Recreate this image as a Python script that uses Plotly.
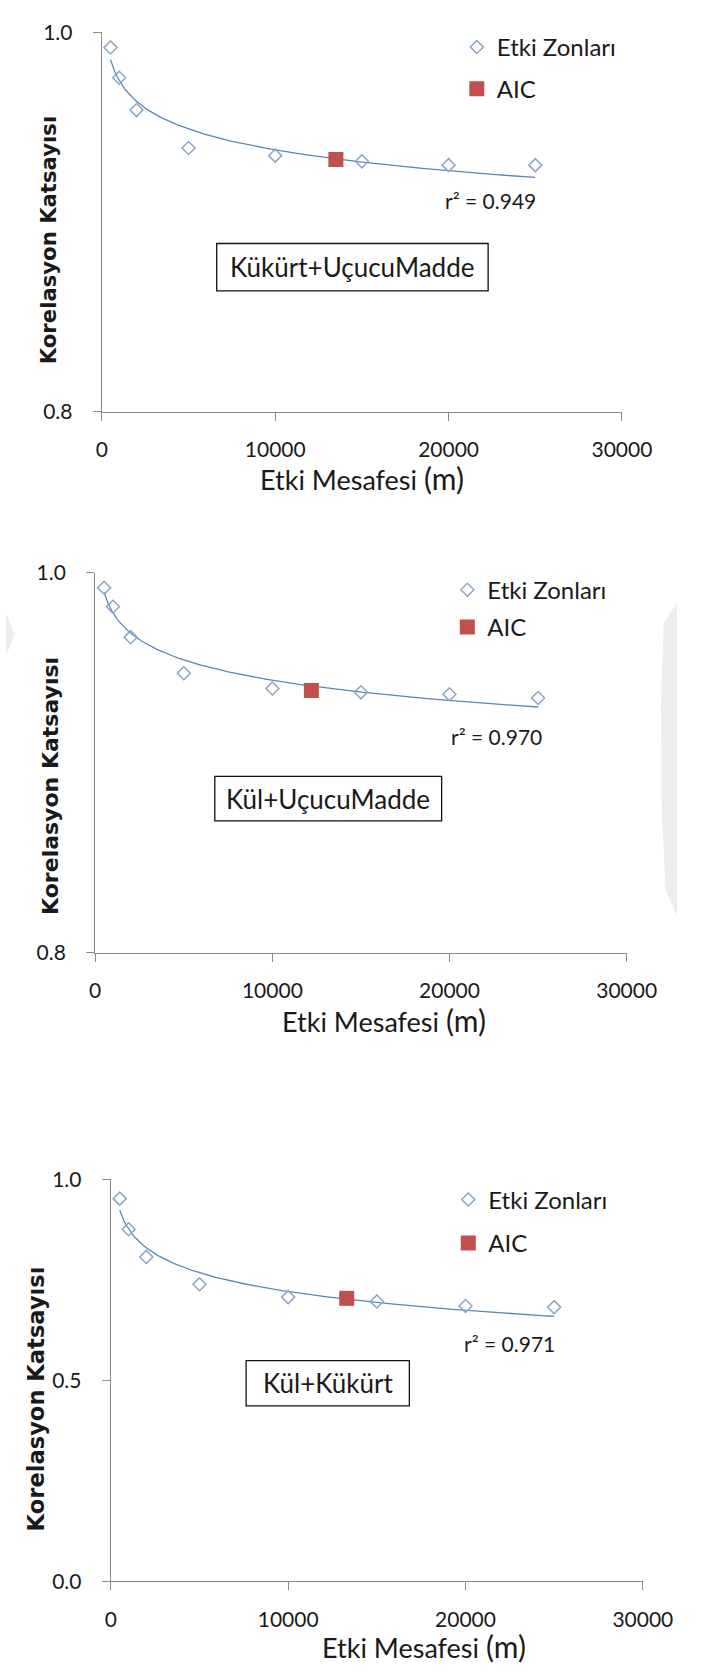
import numpy as np
import plotly.graph_objects as go

# Etki mesafesi (m) for each zone
distances = [500, 1000, 2000, 5000, 10000, 15000, 20000, 25000]

# Korelasyon katsayısı per zone for each parameter pair
kukurt_ucucu = [0.992, 0.976, 0.959, 0.939, 0.935, 0.932, 0.930, 0.930]
kul_ucucu = [0.992, 0.982, 0.966, 0.947, 0.939, 0.937, 0.936, 0.934]
kul_kukurt = [0.952, 0.876, 0.807, 0.739, 0.707, 0.696, 0.685, 0.682]

# AIC-selected distance and its coefficient
aic_distance = [13500, 12200, 13300]
aic_value = [0.933, 0.938, 0.704]

panel_names = ["Kükürt+UçucuMadde", "Kül+UçucuMadde", "Kül+Kükürt"]
r2_values = ["0.949", "0.970", "0.971"]
x_ticks = [0, 10000, 20000, 30000]
x_tick_text = ["0", "10000", "20000", "30000"]
y_ticks = [[0.8, 1.0], [0.8, 1.0], [0.0, 0.5, 1.0]]
y_ranges = [[0.8, 1.0], [0.8, 1.0], [0.0, 1.0]]
series = [kukurt_ucucu, kul_ucucu, kul_kukurt]

W, H = 707, 1676


def fx(px):
    return px / W


def fy(py):
    return 1 - py / H


# pixel layout of each panel
panels = [
    dict(x0=101, x1=649, ytop=18.5, ybot=404, leg=(475, 11), gap=7.7, box=(222, 233, 508, 281),
         r2=(510, 189), ytitle=(45, 230, 21.2), xtitle=(375, 471)),
    dict(x0=94, x1=654, ytop=567, ybot=953, leg=(465, 562), gap=3, box=(220, 774, 459, 819),
         r2=(517, 733), ytitle=(47, 784, 22), xtitle=(398, 1021)),
    dict(x0=110.5, x1=671, ytop=1183, ybot=1591, leg=(466, 1181), gap=9.4, box=(253, 1367, 425, 1413),
         r2=(531, 1350), ytitle=(32, 1406, 22.6), xtitle=(440, 1657)),
]

TXT = "Lato"
DARK = "#1a1a1a"
AXIS = "#8a8a8a"
DIAMOND = "#8aa5c6"
FITLINE = "#5b86b4"
AICRED = "#c0504d"
MARK = "#ededed"

fig = go.Figure()
shapes = []
annotations = []

for i, (vals, p) in enumerate(zip(series, panels)):
    n = "" if i == 0 else str(i + 1)
    xa, ya = "x" + n, "y" + n
    leg = "legend" + n

    # logarithmic trend line fitted to the zone coefficients
    a, b = np.polyfit(np.log(distances), vals, 1)
    xs = np.linspace(distances[0], distances[-1], 200)
    fig.add_trace(go.Scatter(x=xs, y=a * np.log(xs) + b, mode="lines",
                             line=dict(color=FITLINE, width=1.3),
                             showlegend=False, hoverinfo="skip", xaxis=xa, yaxis=ya))
    fig.add_trace(go.Scatter(x=distances, y=vals, mode="markers", name="Etki Zonları",
                             marker=dict(symbol="diamond-open", size=10,
                                         line=dict(color=DIAMOND, width=1.5), color=DIAMOND),
                             legend=leg, legendgroup="z" + n, xaxis=xa, yaxis=ya))
    fig.add_trace(go.Scatter(x=[aic_distance[i]], y=[aic_value[i]], mode="markers", name="AIC",
                             marker=dict(symbol="square", size=15, color=AICRED),
                             legend=leg, legendgroup="a" + n, xaxis=xa, yaxis=ya))

    axis_common = dict(showgrid=False, zeroline=False, showline=True, linecolor=AXIS,
                       linewidth=1.3, ticks="outside", ticklen=8, tickcolor=AXIS,
                       tickwidth=1.3, tickfont=dict(family=TXT, size=21, color=DARK))
    fig.layout["xaxis" + n] = dict(axis_common, domain=[fx(p["x0"]), fx(p["x1"])],
                                   range=[0, 30000], tickvals=x_ticks, ticktext=x_tick_text,
                                   anchor=ya, ticklabelstandoff=11)
    fig.layout["yaxis" + n] = dict(axis_common, domain=[fy(p["ybot"]), fy(p["ytop"])],
                                   range=y_ranges[i], tickvals=y_ticks[i],
                                   tickformat=".1f", anchor=xa, ticklabelstandoff=16)

    fig.layout[leg] = dict(x=fx(p["leg"][0]), y=fy(p["leg"][1]), xanchor="left", yanchor="top",
                           bgcolor="rgba(0,0,0,0)", borderwidth=0, traceorder="grouped",
                           tracegroupgap=p["gap"], font=dict(family=TXT, size=24, color=DARK))

    bx0, by0, bx1, by1 = p["box"]
    shapes.append(dict(type="rect", xref="paper", yref="paper", x0=fx(bx0), x1=fx(bx1),
                       y0=fy(by1), y1=fy(by0), line=dict(color="#111111", width=1.3)))
    annotations.append(dict(text=panel_names[i], xref="paper", yref="paper",
                            x=fx((bx0 + bx1) / 2), y=fy((by0 + by1) / 2),
                            xanchor="center", yanchor="middle", showarrow=False,
                            font=dict(family=TXT, size=26, color=DARK)))
    annotations.append(dict(text="r² = " + r2_values[i], xref="paper", yref="paper",
                            x=fx(p["r2"][0]), y=fy(p["r2"][1]), xanchor="center",
                            yanchor="middle", showarrow=False,
                            font=dict(family=TXT, size=21, color=DARK)))
    tx, ty, ts = p["ytitle"]
    annotations.append(dict(text="Korelasyon Katsayısı", xref="paper", yref="paper",
                            x=fx(tx), y=fy(ty), xanchor="center", yanchor="middle",
                            textangle=-90, showarrow=False,
                            font=dict(family="DejaVu Sans", size=ts, color=DARK, weight="bold")))
    annotations.append(dict(text="Etki Mesafesi <span style='font-size:30px'>(m)</span>",
                            xref="paper", yref="paper", x=fx(p["xtitle"][0]),
                            y=fy(p["xtitle"][1]), xanchor="center", yanchor="middle",
                            showarrow=False, font=dict(family=TXT, size=27, color=DARK)))

# faint page marks along the edges
shapes.append(dict(type="path", xref="paper", yref="paper", layer="below",
                   path="M {},{} L {},{} L {},{} L {},{} L {},{} L {},{} Z".format(
                       fx(707), fy(598), fx(693), fy(618), fx(690), fy(700),
                       fx(691), fy(810), fx(695), fy(890), fx(707), fy(915)),
                   fillcolor=MARK, line=dict(width=0)))
shapes.append(dict(type="path", xref="paper", yref="paper", layer="below",
                   path="M {},{} L {},{} L {},{} Z".format(
                       fx(0), fy(608), fx(9), fy(630), fx(0), fy(652)),
                   fillcolor=MARK, line=dict(width=0)))

fig.update_layout(width=W, height=H, margin=dict(l=0, r=0, t=0, b=0),
                  paper_bgcolor="white", plot_bgcolor="white",
                  shapes=shapes, annotations=annotations)

fig.write_html("out.html")
